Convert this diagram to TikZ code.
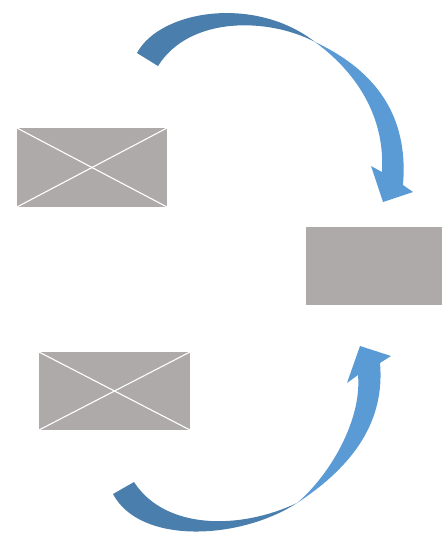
\documentclass[tikz,border=0pt]{standalone}
\usepackage{tikz}
\definecolor{boxgray}{HTML}{AEAAAA}
\definecolor{darkblue}{HTML}{4A7EAC}
\definecolor{lightblue}{HTML}{5B9BD5}
\begin{document}
\begin{tikzpicture}[x=1pt,y=-1pt,
  imgbox/.style={fill=boxgray,draw=none,inner sep=0pt,outer sep=0pt},
  cross/.style={draw=white,line width=1.1pt},
  tailpart/.style={fill=darkblue,draw=none},
  headpart/.style={fill=lightblue,draw=none}]
\useasboundingbox (0,0) rectangle (442,533);
% boxes
\node[imgbox,minimum width=150pt,minimum height=79pt] (b1) at (92,167.5) {};
\node[imgbox,minimum width=136pt,minimum height=78pt] (b2) at (374,266) {};
\node[imgbox,minimum width=151pt,minimum height=78pt] (b3) at (114.5,391) {};
\draw[cross] (b1.north west) -- (b1.south east);
\draw[cross] (b1.south west) -- (b1.north east);
\draw[cross] (b3.north west) -- (b3.south east);
\draw[cross] (b3.south west) -- (b3.north east);
% top curved arrow
\coordinate (t1) at (137,53);
\coordinate (t2) at (158,66);
\coordinate (tm) at (315,42);
\coordinate (tr) at (403,185);
\coordinate (tl) at (382,172);
\coordinate (tbr) at (413,192);
\coordinate (ttip) at (383,202);
\coordinate (tbl) at (371,166);
\fill[tailpart] (t1) .. controls (160,10) and (255,-5) .. (tm)
  .. controls (270,18) and (190,15) .. (t2) -- cycle;
\fill[headpart] (tm) .. controls (385,75) and (408,125) .. (tr)
  -- (tbr) -- (ttip) -- (tbl) -- (tl)
  .. controls (385,120) and (360,75) .. (tm) -- cycle;
% bottom curved arrow
\coordinate (u1) at (113,494);
\coordinate (u2) at (134,482);
\coordinate (um) at (297,503);
\coordinate (ur) at (380,363);
\coordinate (ul) at (358,375);
\coordinate (ubr) at (391,356);
\coordinate (utip) at (360,346);
\coordinate (ubl) at (347,383);
\fill[tailpart] (u1) .. controls (140,545) and (240,540) .. (um)
  .. controls (240,530) and (165,530) .. (u2) -- cycle;
\fill[headpart] (um) .. controls (355,465) and (385,420) .. (ur)
  -- (ubr) -- (utip) -- (ubl) -- (ul)
  .. controls (362,420) and (330,475) .. (um) -- cycle;
\end{tikzpicture}
\end{document}
